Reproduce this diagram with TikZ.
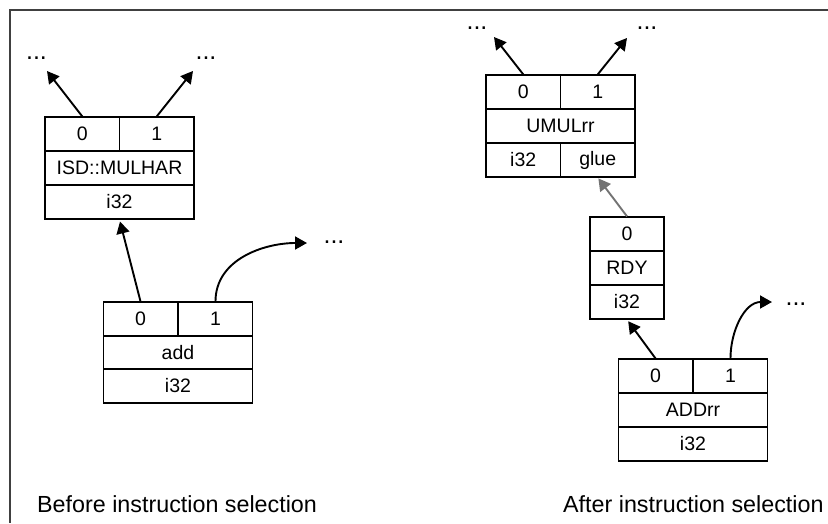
\documentclass[tikz,border=0pt]{standalone}
\usepackage{fontspec}
\setmainfont{Liberation Sans}
\usetikzlibrary{arrows.meta}

\begin{document}
\begin{tikzpicture}[x=1pt, y=-1pt,
  cell/.style={draw=black, line width=1.2pt, minimum height=34pt, inner sep=0pt,
    font=\fontsize{19.5}{20}\selectfont},
  half/.style={cell, minimum width=74.5pt},
  full/.style={cell, minimum width=149pt},
  link/.style={line width=1.9pt, -{Triangle[length=12pt,width=13pt]}},
  dots/.style={anchor=base, inner sep=0pt, font=\fontsize{25}{26}\selectfont},
  caption/.style={anchor=base west, inner sep=0pt, font=\fontsize{23.3}{24}\selectfont}]

\useasboundingbox (0,0) rectangle (828,523);

\draw[line width=1.5pt, draw=black!75] (828,10) -- (10,10) -- (10,523);

% before selection
\node[half] (isd0) at (82.25,134) {0};
\node[half] (isd1) at (156.75,134) {1};
\node[full] (isdop) at (119.5,168) {ISD::MULHAR};
\node[full] (isdty) at (119.5,202) {i32};

\node[half] (add0) at (140.5,319) {0};
\node[half] (add1) at (215.5,319) {1};
\node[full] (addop) at (178,352.5) {add};
\node[full] (addty) at (178,386) {i32};

\node[dots] (dotsA) at (36.5,59) {...};
\node[dots] (dotsB) at (206,59) {...};
\node[dots] (dotsC) at (334,243) {...};
\coordinate (tipA) at (47,71);
\coordinate (tipB) at (193,71);
\coordinate (tipC) at (307,243);

\draw[link] (isd0.north) -- (tipA);
\draw[link] (isd1.north) -- (tipB);
\draw[link, shorten >=2pt] (add0.north) -- (isdty.south);
\draw[link] (add1.north) to[out=90, in=180] (tipC);

% after selection
\node[half] (umul0) at (523.25,92) {0};
\node[half] (umul1) at (597.75,92) {1};
\node[full] (umulop) at (560.5,126) {UMULrr};
\node[half] (umulty) at (523.25,160) {i32};
\node[half] (umulglue) at (597.75,160) {glue};

\node[cell, minimum width=74pt] (rdy0) at (627,234) {0};
\node[cell, minimum width=74pt] (rdyop) at (627,268) {RDY};
\node[cell, minimum width=74pt] (rdyty) at (627,302) {i32};

\node[half] (addrr0) at (655.5,376) {0};
\node[half] (addrr1) at (730.5,376) {1};
\node[full] (addrrop) at (693,410) {ADDrr};
\node[full] (addrrty) at (693,444) {i32};

\node[dots] (dotsD) at (477,29) {...};
\node[dots] (dotsE) at (647,29) {...};
\node[dots] (dotsF) at (796,305) {...};
\coordinate (tipD) at (494,37);
\coordinate (tipE) at (627,38);
\coordinate (tipF) at (772,302);

\draw[link] (umul0.north) -- (tipD);
\draw[link] (umul1.north) -- (tipE);
\draw[link, draw=black!55, fill=black!55, shorten >=1pt] (rdy0.north) -- (umulglue.south);
\draw[link, shorten >=2pt] (addrr0.north) -- (rdyty.south);
\draw[link] (addrr1.north) to[out=90, in=180] (tipF);

\node[caption] (before) at (37,512) {Before instruction selection};
\node[caption] (after) at (563,512) {After instruction selection};

\end{tikzpicture}
\end{document}
